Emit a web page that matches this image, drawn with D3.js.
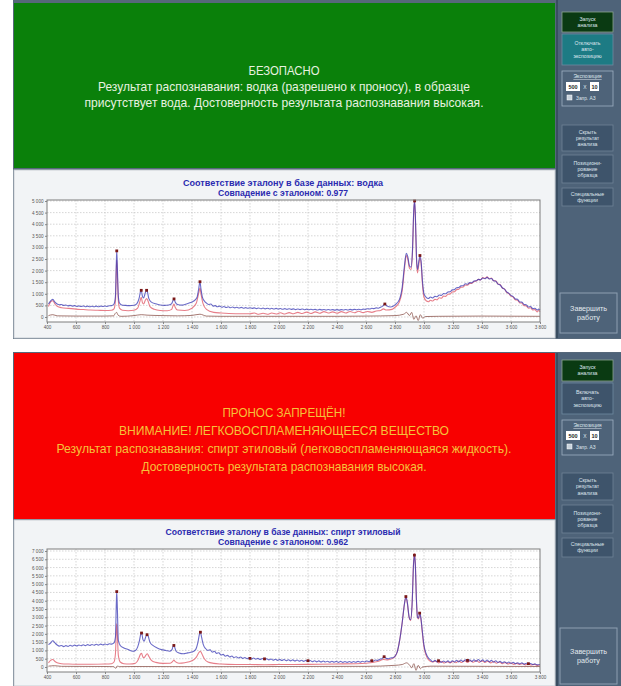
<!DOCTYPE html>
<html>
<head>
<meta charset="utf-8">
<script src="https://cdn.jsdelivr.net/npm/d3@7"></script>
<style>
  body { margin: 0; background: #fff; }
  svg { display: block; }
</style>
</head>
<body>
<svg id="drawing_region"></svg>
<script>
// wavenumber ticks (cm-1) and intensity ticks
const xTicks = [400, 600, 800, 1000, 1200, 1400, 1600, 1800, 2000, 2200, 2400, 2600, 2800, 3000, 3200, 3400, 3600, 3800];
const vodkaYTicks = [0, 500, 1000, 1500, 2000, 2500, 3000, 3500, 4000, 4500, 5000];
const spiritYTicks = [0, 500, 1000, 1500, 2000, 2500, 3000, 3500, 4000, 4500, 5000, 5500, 6000, 6500, 7000];

// screen 1: vodka
const vodkaSample = [[410,560],[425,700],[440,760],[455,640],[470,560],[485,530],[500,540],[515,500],[530,520],[545,480],[560,500],[575,470],[590,490],[605,455],[620,480],[635,450],[650,475],[665,445],[680,470],[695,440],[710,465],[725,440],[740,470],[755,445],[770,470],[785,450],[800,475],[815,455],[830,485],[845,490],[862,560],[872,900],[878,2300],[881,2850],[885,2200],[892,900],[900,600],[915,520],[940,500],[970,490],[1000,510],[1020,580],[1035,800],[1045,1100],[1050,1150],[1058,900],[1066,820],[1076,1000],[1085,1150],[1092,1100],[1102,800],[1120,640],[1150,570],[1180,520],[1210,500],[1240,520],[1260,580],[1270,720],[1276,780],[1284,650],[1300,540],[1330,510],[1360,560],[1390,620],[1415,700],[1435,850],[1447,1250],[1455,1520],[1462,1200],[1472,850],[1490,650],[1500,600],[1515,540],[1530,560],[1545,470],[1560,490],[1575,440],[1590,470],[1605,420],[1620,450],[1635,410],[1650,440],[1665,400],[1680,430],[1695,395],[1710,420],[1725,385],[1740,415],[1755,380],[1770,405],[1785,375],[1800,400],[1815,370],[1830,395],[1845,360],[1860,390],[1875,355],[1890,385],[1905,350],[1920,380],[1935,345],[1950,375],[1965,345],[1980,370],[1995,340],[2010,365],[2025,335],[2040,360],[2055,330],[2070,355],[2085,330],[2100,350],[2115,320],[2130,345],[2145,320],[2160,345],[2175,315],[2190,340],[2205,310],[2220,335],[2235,310],[2250,330],[2265,300],[2280,330],[2295,305],[2310,325],[2325,300],[2340,325],[2355,300],[2370,320],[2385,295],[2400,320],[2415,295],[2430,320],[2445,300],[2460,325],[2475,300],[2490,330],[2505,305],[2520,330],[2535,310],[2550,335],[2565,315],[2580,340],[2595,330],[2610,355],[2625,345],[2640,375],[2655,360],[2670,395],[2685,380],[2700,420],[2715,470],[2730,560],[2745,470],[2770,430],[2800,520],[2830,750],[2850,1300],[2865,2200],[2878,2750],[2888,2600],[2900,2200],[2910,2150],[2920,2800],[2930,4700],[2935,5000],[2940,4500],[2948,2600],[2955,2050],[2963,2350],[2972,2650],[2980,2400],[2990,1500],[3000,1000],[3015,850],[3030,800],[3045,860],[3060,820],[3075,890],[3090,870],[3105,950],[3120,930],[3135,1010],[3150,1000],[3165,1080],[3180,1090],[3195,1170],[3210,1180],[3225,1260],[3240,1270],[3255,1340],[3270,1350],[3285,1430],[3300,1410],[3315,1480],[3330,1470],[3345,1550],[3360,1560],[3375,1620],[3390,1600],[3405,1680],[3420,1650],[3435,1710],[3450,1640],[3465,1660],[3480,1560],[3495,1540],[3510,1420],[3525,1380],[3540,1260],[3555,1200],[3570,1080],[3585,1020],[3600,930],[3615,880],[3630,780],[3645,760],[3660,650],[3675,640],[3690,540],[3705,530],[3720,430],[3735,450],[3750,360],[3765,380],[3780,300],[3790,340],[3800,300]];
const vodkaReference = [[410,450],[425,650],[440,700],[455,560],[470,460],[500,400],[550,370],[600,340],[650,320],[700,300],[750,290],[800,280],[845,290],[862,350],[872,700],[878,2000],[881,2450],[885,1900],[892,700],[900,380],[920,290],[960,270],[1000,290],[1025,380],[1040,650],[1050,850],[1058,620],[1066,560],[1078,720],[1087,800],[1096,700],[1110,450],[1140,330],[1180,280],[1230,270],[1260,330],[1270,500],[1276,560],[1284,420],[1300,300],[1350,280],[1400,380],[1430,600],[1447,1050],[1455,1250],[1462,1000],[1475,600],[1500,330],[1550,200],[1600,170],[1700,140],[1800,140],[1830,170],[1860,120],[1890,160],[1920,120],[1950,170],[1980,130],[2010,180],[2040,130],[2070,190],[2100,140],[2130,200],[2160,150],[2190,210],[2220,150],[2250,220],[2280,160],[2310,230],[2340,170],[2370,220],[2400,160],[2430,230],[2460,170],[2490,240],[2520,180],[2550,250],[2580,190],[2610,240],[2640,200],[2670,260],[2700,280],[2720,350],[2740,300],[2780,330],[2800,420],[2830,650],[2850,1150],[2865,2050],[2878,2650],[2888,2500],[2900,2100],[2910,2050],[2920,2700],[2930,4600],[2935,4950],[2940,4400],[2948,2500],[2955,1900],[2963,2200],[2972,2550],[2980,2300],[2990,1350],[3000,850],[3015,700],[3030,660],[3045,720],[3060,690],[3075,760],[3090,740],[3105,830],[3120,810],[3135,900],[3150,890],[3165,980],[3180,990],[3195,1080],[3210,1090],[3225,1180],[3240,1200],[3255,1280],[3270,1290],[3285,1380],[3300,1370],[3315,1450],[3330,1450],[3345,1530],[3360,1550],[3375,1620],[3390,1600],[3405,1700],[3420,1660],[3435,1730],[3450,1650],[3465,1680],[3480,1560],[3495,1560],[3510,1420],[3525,1400],[3540,1250],[3555,1210],[3570,1060],[3585,1010],[3600,900],[3615,860],[3630,740],[3645,720],[3660,610],[3675,600],[3690,490],[3705,480],[3720,380],[3735,400],[3750,300],[3765,320],[3780,220],[3790,280],[3800,230]];
const vodkaDiff = [[410,60],[440,100],[470,50],[600,40],[800,40],[860,50],[870,150],[880,200],[890,80],[910,30],[1000,60],[1050,100],[1090,80],[1200,60],[1300,50],[1400,70],[1455,120],[1500,40],[1600,30],[2000,30],[2400,30],[2600,40],[2800,60],[2860,120],[2880,200],[2900,60],[2915,200],[2930,-100],[2945,50],[2960,-150],[2975,100],[2990,-50],[3010,20],[3100,30],[3400,40],[3800,30]];
const vodkaPeaks = [[881,2850],[1050,1150],[1087,1150],[1276,780],[1455,1520],[2730,560],[2935,5000],[2972,2650]];

// screen 2: ethyl alcohol
const spiritSample = [[410,1350],[425,1450],[440,1580],[455,1450],[470,1330],[485,1260],[500,1300],[515,1230],[530,1290],[545,1240],[560,1310],[575,1260],[590,1320],[605,1270],[620,1330],[635,1280],[650,1340],[665,1290],[680,1350],[695,1300],[710,1360],[725,1310],[740,1370],[755,1320],[770,1380],[785,1330],[800,1390],[815,1340],[830,1400],[845,1380],[862,1450],[872,1800],[878,3800],[881,4550],[885,3600],[892,1600],[905,1300],[930,1150],[960,1050],[990,950],[1010,1000],[1025,1200],[1038,1600],[1047,2000],[1052,2050],[1062,1650],[1070,1550],[1080,1800],[1090,1950],[1098,1850],[1110,1500],[1130,1300],[1160,1150],[1190,1050],[1220,1000],[1245,950],[1262,1050],[1272,1300],[1278,1250],[1290,950],[1310,850],[1340,800],[1370,850],[1400,900],[1425,1050],[1440,1450],[1452,2000],[1458,2100],[1466,1800],[1478,1350],[1495,1100],[1510,1000],[1525,1040],[1540,900],[1555,950],[1570,820],[1585,860],[1600,720],[1615,760],[1630,650],[1645,700],[1660,600],[1675,660],[1690,570],[1705,620],[1720,540],[1735,600],[1750,520],[1765,570],[1780,500],[1795,560],[1810,480],[1825,540],[1840,470],[1855,520],[1870,450],[1885,510],[1900,440],[1915,500],[1930,430],[1945,480],[1960,410],[1975,470],[1990,400],[2005,460],[2020,390],[2035,450],[2050,380],[2065,440],[2080,370],[2095,430],[2110,360],[2125,420],[2140,350],[2155,410],[2170,340],[2185,400],[2200,330],[2215,390],[2230,320],[2245,380],[2260,310],[2275,370],[2290,300],[2305,360],[2320,300],[2335,350],[2350,290],[2365,350],[2380,290],[2395,340],[2410,280],[2425,340],[2440,280],[2455,330],[2470,280],[2485,330],[2500,280],[2515,330],[2530,285],[2545,340],[2560,290],[2575,350],[2590,300],[2605,360],[2620,320],[2635,390],[2650,350],[2665,420],[2680,400],[2695,470],[2710,500],[2725,620],[2740,520],[2755,500],[2770,540],[2785,560],[2800,650],[2815,900],[2830,1500],[2850,2700],[2865,3800],[2875,4250],[2885,3900],[2898,3000],[2908,2850],[2918,3800],[2928,6200],[2934,6750],[2940,6200],[2948,4000],[2955,3000],[2962,2950],[2970,3250],[2978,3000],[2988,2200],[3000,1300],[3015,800],[3030,550],[3045,430],[3060,320],[3075,400],[3090,300],[3105,380],[3120,280],[3135,360],[3150,290],[3165,370],[3180,280],[3195,380],[3210,300],[3225,400],[3240,310],[3255,420],[3270,330],[3285,440],[3300,340],[3315,430],[3330,330],[3345,440],[3360,340],[3375,450],[3390,330],[3405,440],[3420,320],[3435,420],[3450,310],[3465,400],[3480,290],[3495,380],[3510,270],[3525,350],[3540,250],[3555,320],[3570,230],[3585,300],[3600,220],[3615,280],[3630,200],[3645,260],[3660,190],[3675,250],[3690,170],[3705,230],[3720,200],[3735,210],[3750,150],[3765,190],[3780,130],[3800,150]];
const spiritReference = [[410,250],[425,400],[440,450],[455,330],[470,250],[500,200],[550,180],[600,170],[700,170],[800,180],[845,200],[862,300],[872,800],[878,2200],[881,2600],[885,2000],[892,700],[905,300],[930,200],[970,180],[1010,230],[1030,450],[1045,780],[1052,820],[1062,600],[1070,560],[1082,720],[1092,800],[1102,650],[1120,400],[1150,280],[1200,220],[1250,230],[1268,350],[1275,420],[1285,320],[1310,230],[1350,260],[1400,380],[1430,600],[1450,900],[1458,950],[1468,800],[1485,500],[1510,300],[1550,220],[1600,180],[1700,150],[1800,150],[1900,140],[2000,150],[2200,160],[2400,180],[2600,230],[2680,330],[2720,450],[2750,430],[2790,550],[2815,900],[2830,1500],[2850,2700],[2865,3800],[2875,4200],[2885,3850],[2898,2950],[2908,2800],[2918,3800],[2928,6300],[2934,6850],[2940,6300],[2948,4000],[2955,3000],[2962,2900],[2970,3150],[2978,2950],[2988,2100],[3000,1200],[3015,700],[3030,450],[3060,300],[3080,360],[3100,250],[3120,330],[3140,240],[3160,320],[3180,250],[3200,330],[3220,260],[3240,360],[3260,270],[3280,380],[3300,280],[3320,380],[3340,290],[3360,390],[3380,280],[3400,370],[3420,270],[3440,350],[3460,250],[3480,330],[3500,230],[3520,300],[3540,200],[3560,270],[3580,180],[3600,240],[3620,160],[3640,220],[3660,150],[3680,200],[3700,130],[3720,180],[3740,120],[3760,160],[3780,100],[3800,120]];
const spiritDiff = [[410,50],[450,80],[500,40],[800,30],[860,20],[875,-80],[885,60],[900,20],[1000,30],[1450,20],[1600,20],[2000,30],[2600,40],[2800,100],[2850,150],[2880,250],[2900,120],[2915,-50],[2930,200],[2945,-200],[2960,100],[2975,-100],[2990,0],[3050,50],[3800,30]];
const spiritPeaks = [[881,4550],[1052,2050],[1090,1950],[1275,1300],[1458,2100],[1800,520],[1900,490],[2200,380],[2640,380],[2725,620],[2875,4250],[2934,6750],[2970,3250],[3100,380],[3300,400],[3720,200]];

const screens = [
  {
    top: 0, bottom: 339,
    header: { y0: 3, y1: 168, fill: '#0a800a', color: '#e8f2e0',
      lines: [
        { text: 'БЕЗОПАСНО', y: 75, w: 71 },
        { text: 'Результат распознавания: водка (разрешено к проносу), в образце', y: 91, w: 372 },
        { text: 'присутствует вода. Достоверность результата распознавания высокая.', y: 107, w: 399 }
      ] },
    panel: { y0: 170, y1: 338 },
    title: ['Соответствие эталону в базе данных: водка', 'Совпадение с эталоном: 0.977'],
    titleY: [186, 196], titleW: [200, 130],
    plot: { y0: 200, y1: 322, zero: 317, topVal: 5000, topY: 201 },
    yTicks: vodkaYTicks,
    sample: vodkaSample, reference: vodkaReference, diff: vodkaDiff, peaks: vodkaPeaks,
    side: { y0: 0, y1: 338, start: [12, 32], auto: [34, 65], autoText: 'Отключать', autoFill: '#1d7b84',
            expo: [71, 106], hide: [125, 151], pos: [155, 183], spec: [188, 206], fin: [293, 333] }
  },
  {
    top: 352, bottom: 686,
    header: { y0: 353, y1: 519, fill: '#f80000', color: '#f5c23a',
      lines: [
        { text: 'ПРОНОС ЗАПРЕЩЁН!', y: 417, w: 123 },
        { text: 'ВНИМАНИЕ! ЛЕГКОВОСПЛАМЕНЯЮЩЕЕСЯ ВЕЩЕСТВО', y: 435, w: 330 },
        { text: 'Результат распознавания: спирт этиловый (легковоспламеняющаяся жидкость).', y: 453, w: 455 },
        { text: 'Достоверность результата распознавания высокая.', y: 471, w: 285 }
      ] },
    panel: { y0: 520, y1: 686 },
    title: ['Соответствие эталону в базе данных: спирт этиловый', 'Совпадение с эталоном: 0.962'],
    titleY: [535, 545], titleW: [235, 130],
    plot: { y0: 549, y1: 672, zero: 667, topVal: 7000, topY: 551 },
    yTicks: spiritYTicks,
    sample: spiritSample, reference: spiritReference, diff: spiritDiff, peaks: spiritPeaks,
    side: { y0: 353, y1: 686, start: [360, 381], auto: [383, 414], autoText: 'Включать', autoFill: '#3e546b',
            expo: [420, 455], hide: [473, 500], pos: [505, 533], spec: [538, 557], fin: [628, 684] }
  }
];

const W = 621, H = 686;
const svg = d3.select('#drawing_region').attr('width', W).attr('height', H);
const fmt = d => d3.format(',')(d).replace(/,/g, ' ');
const narrow = '"Liberation Sans Narrow", "Arial Narrow", "Liberation Sans", sans-serif';

screens.forEach(s => drawScreen(s));

function drawScreen(s) {
  const g = svg.append('g');

  // window frame
  g.append('rect').attr('x', 13).attr('y', s.top).attr('width', W - 13).attr('height', s.bottom - s.top)
    .attr('fill', '#56687a');

  // header banner
  g.append('rect').attr('x', 14).attr('y', s.header.y0).attr('width', 541).attr('height', s.header.y1 - s.header.y0)
    .attr('fill', s.header.fill);
  g.selectAll('text.hdr').data(s.header.lines).enter().append('text')
    .attr('class', 'hdr')
    .attr('x', 284).attr('y', d => d.y)
    .attr('text-anchor', 'middle')
    .attr('font-family', narrow).attr('font-size', 13)
    .attr('fill', s.header.color)
    .attr('textLength', d => d.w).attr('lengthAdjust', 'spacingAndGlyphs')
    .text(d => d.text);

  // chart panel
  g.append('rect').attr('x', 14).attr('y', s.panel.y0).attr('width', 541).attr('height', s.panel.y1 - s.panel.y0)
    .attr('fill', '#f2f4f6').attr('stroke', '#c9ced4').attr('stroke-width', 1);

  // chart titles
  s.title.forEach((t, i) => {
    g.append('text').attr('x', 283).attr('y', s.titleY[i])
      .attr('text-anchor', 'middle')
      .attr('font-family', '"Liberation Sans", Arial, sans-serif').attr('font-weight', 'bold').attr('font-size', 8.5)
      .attr('fill', '#2b2bb0')
      .attr('textLength', s.titleW[i]).attr('lengthAdjust', 'spacingAndGlyphs')
      .text(t);
  });

  // scales
  const x0 = 47, x1 = 540;
  const k = (s.plot.zero - s.plot.topY) / s.plot.topVal;
  const yMin = -(s.plot.y1 - s.plot.zero) / k;
  const yMax = s.plot.topVal + (s.plot.topY - s.plot.y0) / k;
  const xscale = d3.scaleLinear().domain([400, 3800]).range([x0, x1]);
  const yscale = d3.scaleLinear().domain([yMin, yMax]).range([s.plot.y1, s.plot.y0]);

  g.append('rect').attr('x', x0).attr('y', s.plot.y0).attr('width', x1 - x0).attr('height', s.plot.y1 - s.plot.y0)
    .attr('fill', '#ffffff');

  // grid
  const grid = g.append('g').attr('stroke', '#c4c4c4').attr('stroke-width', 0.7).attr('stroke-dasharray', '1.5,1.5');
  grid.selectAll('line.gx').data(xTicks.slice(1, -1)).enter().append('line')
    .attr('x1', d => xscale(d)).attr('x2', d => xscale(d))
    .attr('y1', s.plot.y0).attr('y2', s.plot.y1);
  grid.selectAll('line.gy').data(s.yTicks).enter().append('line')
    .attr('x1', x0).attr('x2', x1)
    .attr('y1', d => yscale(d)).attr('y2', d => yscale(d));

  // axes
  const xaxis = d3.axisBottom(xscale).tickValues(xTicks).tickFormat(fmt).tickSize(2).tickSizeOuter(0);
  const yaxis = d3.axisLeft(yscale).tickValues(s.yTicks).tickFormat(fmt).tickSize(2).tickSizeOuter(0);
  const xg = g.append('g').attr('transform', `translate(0,${s.plot.y1})`).call(xaxis);
  const yg = g.append('g').attr('transform', `translate(${x0},0)`).call(yaxis);
  [xg, yg].forEach(a => {
    a.select('.domain').remove();
    a.selectAll('line').attr('stroke', '#888');
    a.selectAll('text').attr('font-size', 4.6).attr('fill', '#555')
      .attr('font-family', '"Liberation Sans", Arial, sans-serif');
  });
  xg.selectAll('text').attr('dy', '0.71em').attr('y', 3.5);
  yg.selectAll('text').attr('x', -3.5);

  // spectra
  const line = d3.line().x(d => xscale(d[0])).y(d => yscale(d[1])).curve(d3.curveMonotoneX);
  g.append('path').datum(s.diff).attr('d', line)
    .attr('fill', 'none').attr('stroke', '#8a5048').attr('stroke-width', 0.9).attr('opacity', 0.85);
  g.append('path').datum(s.reference).attr('d', line)
    .attr('fill', 'none').attr('stroke', '#e4707c').attr('stroke-width', 1.1).attr('opacity', 0.9);
  g.append('path').datum(s.sample).attr('d', line)
    .attr('fill', 'none').attr('stroke', '#3838b4').attr('stroke-width', 1.1).attr('opacity', 0.75);

  g.selectAll('rect.peak').data(s.peaks).enter().append('rect')
    .attr('class', 'peak')
    .attr('x', d => xscale(d[0]) - 1.4).attr('y', d => yscale(d[1]) - 1.4)
    .attr('width', 2.8).attr('height', 2.8)
    .attr('fill', '#7a1818');

  // plot frame
  g.append('rect').attr('x', x0).attr('y', s.plot.y0).attr('width', x1 - x0).attr('height', s.plot.y1 - s.plot.y0)
    .attr('fill', 'none').attr('stroke', '#7c7c7c').attr('stroke-width', 1);

  drawSidebar(g, s.side);
}

function drawSidebar(g, sd) {
  const sx = 557;
  g.append('rect').attr('x', sx).attr('y', sd.y0).attr('width', W - sx).attr('height', sd.y1 - sd.y0)
    .attr('fill', '#4e6379');
  g.append('line').attr('x1', sx).attr('x2', sx).attr('y1', sd.y0).attr('y2', sd.y1)
    .attr('stroke', '#33465a').attr('stroke-width', 1.5);

  const bx = 562, bw = 51;
  const button = (y, fill, stroke, lines, size) => {
    g.append('rect').attr('x', bx).attr('y', y[0]).attr('width', bw).attr('height', y[1] - y[0])
      .attr('fill', fill).attr('stroke', stroke).attr('stroke-width', 0.8);
    const mid = (y[0] + y[1]) / 2;
    const lh = size * 1.2;
    lines.forEach((t, i) => {
      g.append('text').attr('x', bx + bw / 2).attr('y', mid + (i - (lines.length - 1) / 2) * lh + size * 0.35)
        .attr('text-anchor', 'middle')
        .attr('font-family', '"Liberation Sans", Arial, sans-serif').attr('font-size', size)
        .attr('fill', '#dfe6ee')
        .text(t);
    });
  };

  button(sd.start, '#0a3a12', '#8aa48e', ['Запуск', 'анализа'], 5.2);
  button(sd.auto, sd.autoFill, '#6f8aa0', [sd.autoText, 'авто-', 'экспозицию'], 5.2);

  // exposure box
  g.append('rect').attr('x', bx).attr('y', sd.expo[0]).attr('width', bw).attr('height', sd.expo[1] - sd.expo[0])
    .attr('fill', 'none').attr('stroke', '#9fb0c2').attr('stroke-width', 0.8);
  g.append('text').attr('x', bx + bw / 2).attr('y', sd.expo[0] + 7)
    .attr('text-anchor', 'middle').attr('font-family', '"Liberation Sans", Arial, sans-serif')
    .attr('font-size', 5.2).attr('fill', '#dfe6ee').attr('text-decoration', 'underline').text('Экспозиция');
  const iy = sd.expo[0] + 11;
  g.append('rect').attr('x', 566).attr('y', iy).attr('width', 14).attr('height', 9).attr('fill', '#fff');
  g.append('text').attr('x', 573).attr('y', iy + 7).attr('text-anchor', 'middle')
    .attr('font-family', '"Liberation Sans", Arial, sans-serif').attr('font-weight', 'bold')
    .attr('font-size', 5.5).attr('fill', '#222').text('500');
  g.append('text').attr('x', 585).attr('y', iy + 6.5).attr('text-anchor', 'middle')
    .attr('font-family', '"Liberation Sans", Arial, sans-serif').attr('font-size', 5).attr('fill', '#dfe6ee').text('X');
  g.append('rect').attr('x', 590).attr('y', iy).attr('width', 9).attr('height', 9).attr('fill', '#fff');
  g.append('text').attr('x', 594.5).attr('y', iy + 7).attr('text-anchor', 'middle')
    .attr('font-family', '"Liberation Sans", Arial, sans-serif').attr('font-weight', 'bold')
    .attr('font-size', 5.5).attr('fill', '#222').text('10');
  g.append('rect').attr('x', 567).attr('y', iy + 13).attr('width', 5).attr('height', 5)
    .attr('fill', '#c9d3dd').attr('stroke', '#fff').attr('stroke-width', 0.5);
  g.append('text').attr('x', 576).attr('y', iy + 17.5)
    .attr('font-family', '"Liberation Sans", Arial, sans-serif').attr('font-size', 4.8).attr('fill', '#dfe6ee')
    .text('Запр. АЗ');

  button(sd.hide, '#3e546b', '#6f8296', ['Скрыть', 'результат', 'анализа'], 5.2);
  button(sd.pos, '#3e546b', '#6f8296', ['Позициони-', 'рование', 'образца'], 5.2);
  button(sd.spec, '#3e546b', '#6f8296', ['Специальные', 'функции'], 5.2);

  // finish button
  g.append('rect').attr('x', 560).attr('y', sd.fin[0]).attr('width', 57).attr('height', sd.fin[1] - sd.fin[0])
    .attr('fill', '#4e6379').attr('stroke', '#8d9fb2').attr('stroke-width', 1);
  const fm = (sd.fin[0] + sd.fin[1]) / 2;
  ['Завершить', 'работу'].forEach((t, i) => {
    g.append('text').attr('x', 588.5).attr('y', fm + (i - 0.5) * 9 + 2.5)
      .attr('text-anchor', 'middle').attr('font-family', '"Liberation Sans", Arial, sans-serif')
      .attr('font-size', 7.2).attr('fill', '#e3e9ef').text(t);
  });
}
</script>
</body>
</html>
